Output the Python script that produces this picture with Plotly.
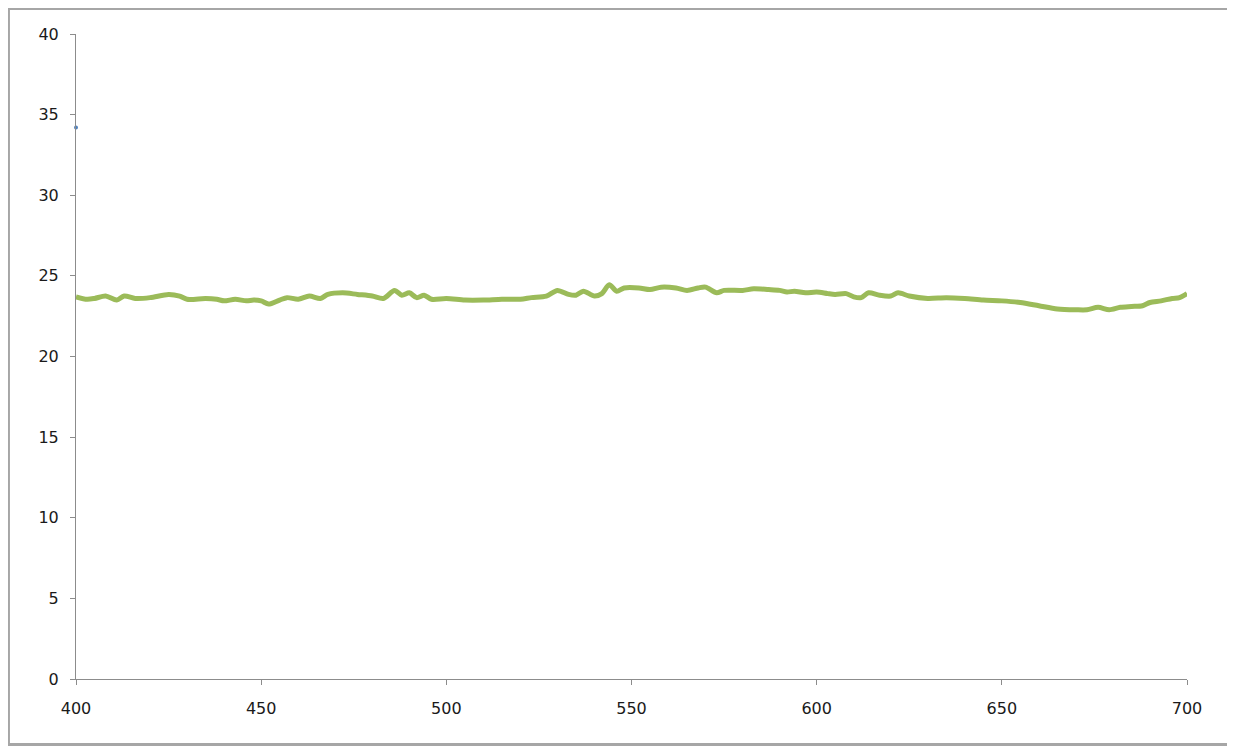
import plotly.graph_objects as go

wavelength = [400, 403, 405, 408, 411, 413, 416, 420, 425, 428, 430, 435, 438, 440, 443, 446, 448, 450,
              452, 455, 457, 460, 463, 466, 468, 472, 476, 480, 483, 486, 488, 490, 492, 494, 496, 500,
              505, 510, 515, 520, 523, 527, 530, 533, 535, 537, 540, 542, 544, 546, 548, 552, 555, 558,
              562, 565, 568, 570, 573, 575, 580, 583, 587, 590, 592, 594, 597, 600, 603, 605, 608, 610,
              612, 614, 617, 620, 622, 625, 630, 635, 640, 645, 650, 655, 660, 665, 670, 673, 676, 679,
              682, 685, 688, 690, 693, 696, 698, 700]
values = [23.7, 23.55, 23.6, 23.75, 23.5, 23.75, 23.6, 23.65, 23.85, 23.75, 23.55, 23.6, 23.55, 23.45,
          23.55, 23.45, 23.5, 23.45, 23.25, 23.5, 23.65, 23.55, 23.75, 23.6, 23.85, 23.95, 23.85, 23.75,
          23.6, 24.1, 23.8, 23.95, 23.65, 23.8, 23.55, 23.6, 23.5, 23.5, 23.55, 23.55, 23.65, 23.75,
          24.1, 23.85, 23.8, 24.05, 23.75, 23.9, 24.45, 24.05, 24.25, 24.25, 24.15, 24.3, 24.25, 24.1,
          24.25, 24.3, 23.95, 24.1, 24.1, 24.2, 24.15, 24.1, 24.0, 24.05, 23.95, 24.0, 23.9, 23.85,
          23.9, 23.7, 23.65, 23.95, 23.8, 23.75, 23.95, 23.75, 23.6, 23.65, 23.6, 23.5, 23.45, 23.35,
          23.15, 22.95, 22.9, 22.9, 23.05, 22.9, 23.05, 23.1, 23.15, 23.35, 23.45, 23.6, 23.65, 23.9]

blue_x = [400]
blue_y = [34.2]

fig = go.Figure()
fig.add_trace(go.Scatter(x=blue_x, y=blue_y, mode="markers",
                         marker=dict(color="#4F81BD", size=4), showlegend=False,
                         cliponaxis=False))
fig.add_trace(go.Scatter(x=wavelength, y=values, mode="lines",
                         line=dict(color="#9BBB59", width=5, shape="spline", smoothing=0.8),
                         showlegend=False))

axis_common = dict(showgrid=False, zeroline=False, showline=True, linecolor="#8C8C8C", linewidth=1,
                   ticks="outside", ticklen=5, tickcolor="#8C8C8C",
                   tickfont=dict(family="DejaVu Sans", size=16, color="#1a1a1a"))

fig.update_xaxes(range=[400, 700], tickvals=[400, 450, 500, 550, 600, 650, 700],
                 ticklabelstandoff=10, **axis_common)
fig.update_yaxes(range=[0, 40], dtick=5, ticklabelstandoff=8, **axis_common)

fig.add_shape(type="rect", xref="paper", yref="paper",
              x0=-0.0608, x1=1.0387, y0=-0.1016, y1=1.0395,
              line=dict(color="#A6A6A6", width=3), fillcolor="rgba(0,0,0,0)", layer="below")

fig.update_layout(width=1227, height=743, margin=dict(l=68, r=48, t=26, b=72),
                  plot_bgcolor="white", paper_bgcolor="white")

fig.write_html("out.html")
